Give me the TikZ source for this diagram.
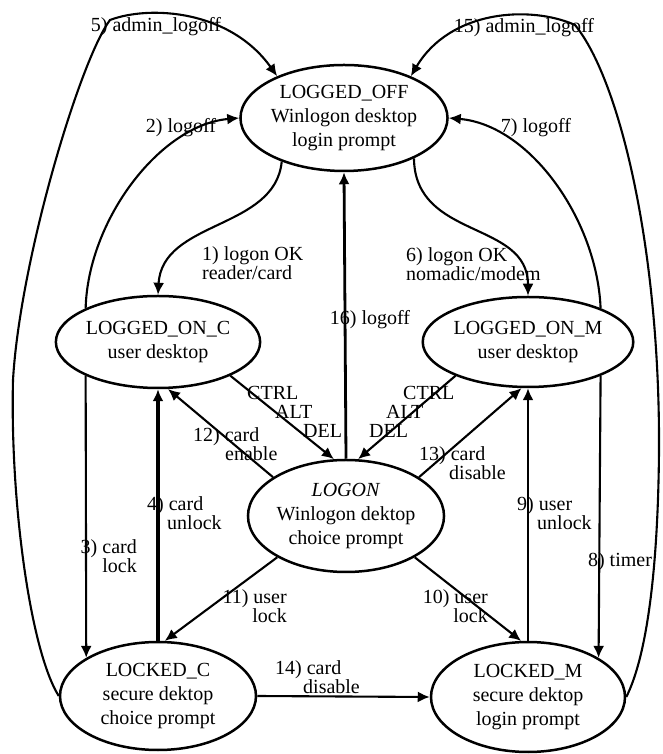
\documentclass[tikz,border=0pt]{standalone}
\usepackage{fontspec}
\setmainfont{Liberation Serif}
\usetikzlibrary{shapes.geometric, arrows.meta}

\begin{document}
\begin{tikzpicture}[
        x=1pt, y=1pt,
        font=\fontsize{20}{24}\selectfont,
        state/.style={
            ellipse,
            draw,
            line width=2.5pt,
            inner sep=0pt,
            align=center
        },
        trans/.style={
            line width=2.1pt,
            -{Latex[length=12pt, width=11pt]}
        },
        lbl/.style={
            font=\fontsize{20}{19}\selectfont,
            inner sep=0pt
        }
    ]
    \useasboundingbox (0,0) rectangle (662,754);

    % States
    \node[state, minimum width=191pt, minimum height=106pt] (loggedoff) at (344,636) {LOGGED\_OFF\\Winlogon desktop\\login prompt};
    \node[state, minimum width=200pt, minimum height=92pt] (loggedonc) at (158,412) {LOGGED\_ON\_C\\user desktop};
    \node[state, minimum width=196pt, minimum height=90pt] (loggedonm) at (528,412) {LOGGED\_ON\_M\\user desktop};
    \node[state, minimum width=196pt, minimum height=112pt] (logon) at (346,238) {\textit{LOGON}\\Winlogon dektop\\choice prompt};
    \node[state, minimum width=196pt, minimum height=108pt] (lockedc) at (158,58) {LOCKED\_C\\secure dektop\\choice prompt};
    \node[state, minimum width=194pt, minimum height=110pt] (lockedm) at (528,57) {LOCKED\_M\\secure dektop\\login prompt};

    % Logging on and off
    \draw[trans] (loggedoff.215) .. controls (275,524) and (162,534) .. (loggedonc.north);
    \draw[trans] (loggedonc.155) .. controls (88,534) and (160,629) .. (loggedoff.west);
    \draw[trans] (loggedoff.-30) .. controls (415,514) and (528,534) .. (loggedonm.north);
    \draw[trans] (loggedonm.25) .. controls (597,534) and (530,629) .. (loggedoff.east);
    \draw[trans, line width=2.8pt] (logon.north) -- (loggedoff.south);

    % Admin logoff
    \draw[trans] (lockedc.west) .. controls (30,104) and (10,254) .. (13,374)
        .. controls (20,494) and (80,694) .. (110,734)
        .. controls (150,749) and (230,744) .. (loggedoff.148);
    \draw[trans] (lockedm.east) .. controls (645,94) and (658,174) .. (659,304)
        .. controls (660,504) and (620,674) .. (575,729)
        .. controls (530,749) and (450,744) .. (loggedoff.32);

    % Locking and unlocking
    \draw[trans] (loggedonc.205) -- (lockedc.152);
    \draw[trans, line width=4pt] (lockedc.north) -- (loggedonc.south);
    \draw[trans] (loggedonm.335) -- (lockedm.29);
    \draw[trans] (lockedm.north) -- (loggedonm.south);
    \draw[trans] (logon.-31) -- (lockedm.97);
    \draw[trans] (logon.211) -- (lockedc.83);
    \draw[trans] (logon.152) -- (loggedonc.-78);
    \draw[trans] (logon.28) -- (loggedonm.262);
    \draw[trans] (lockedc.east) -- (lockedm.west);

    % CTRL ALT DEL
    \draw[trans] (loggedonc.-25) -- (logon.102);
    \draw[trans] (loggedonm.205) -- (logon.78);

    % Labels
    \node[lbl, anchor=west, align=left] (l1) at (202,491) {1) logon OK\\reader/card};
    \node[lbl] (l2) at (181,626) {2) logoff};
    \node[lbl, anchor=east, align=right] (l3) at (137,198) {3) card\\lock};
    \node[lbl, anchor=west, align=left] (l4) at (147,241) {4) card\\\hspace*{20pt}unlock};
    \node[lbl] (l5) at (156,727) {5) admin\_logoff};
    \node[lbl, anchor=west, align=left] (l6) at (406,490) {6) logon OK\\nomadic/modem};
    \node[lbl] (l7) at (536,626) {7) logoff};
    \node[lbl] (l8) at (620,192) {8) timer};
    \node[lbl, anchor=west, align=left] (l9) at (517,241) {9) user\\\hspace*{20pt}unlock};
    \node[lbl, anchor=east, align=right] (l10) at (488,148) {10) user\\lock};
    \node[lbl, anchor=east, align=right] (l11) at (287,148) {11) user\\lock};
    \node[lbl, anchor=west, align=left] (l12) at (193,310) {12) card\\\hspace*{32pt}enable};
    \node[lbl, anchor=west, align=left] (l13) at (419,291) {13) card\\\hspace*{30pt}disable};
    \node[lbl, anchor=west, align=left] (l14) at (275,77) {14) card\\\hspace*{28pt}disable};
    \node[lbl] (l15) at (524,726) {15) admin\_logoff};
    \node[lbl] (l16) at (370,434) {16) logoff};
    \node[lbl, anchor=west, align=left] (cadl) at (247,342) {CTRL\\\hspace*{28pt}ALT\\\hspace*{56pt}DEL};
    \node[lbl, anchor=west, align=left] (cadr) at (369,342) {\hspace*{34pt}CTRL\\\hspace*{17pt}ALT\\DEL};

\end{tikzpicture}
\end{document}
